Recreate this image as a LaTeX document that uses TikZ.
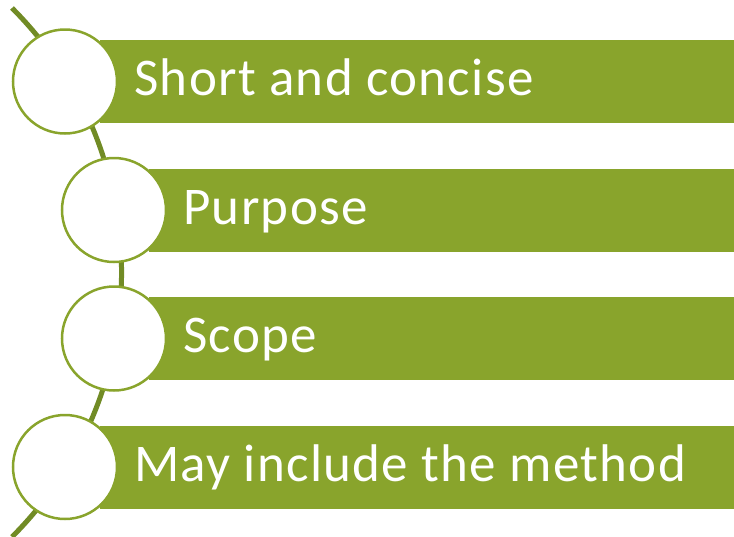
\documentclass[tikz,border=0pt]{standalone}
\usepackage{fontspec}
\setmainfont{Carlito}[LetterSpace=2.5]
\usepackage{xcolor}
\usepackage{tikz}
\definecolor{olivebar}{HTML}{89A42C}
\definecolor{oliveline}{HTML}{718B25}

\begin{document}
\begin{tikzpicture}[x=1pt, y=-1pt,
				bar/.style={fill=olivebar, draw=none, anchor=west, minimum height=83pt, inner sep=0pt},
				ring/.style={circle, fill=white, draw=olivebar, line width=2.5pt, minimum size=104pt, inner sep=0pt},
				label/.style={anchor=base west, text=white, inner sep=0pt, font=\fontsize{53}{62}\selectfont}]
				\useasboundingbox (0,0) rectangle (734,536);
				% arc behind everything
				\coordinate (arctop) at (12,8);
				\draw[oliveline, line width=5pt] (arctop) arc[start angle=-45, end angle=45, radius=374];
				% bars
				\node at (100,81.5) (bar1) [bar, minimum width=634pt] {};
				\node at (149,210) (bar2) [bar, minimum width=585pt] {};
				\node at (149,338.5) (bar3) [bar, minimum width=585pt] {};
				\node at (100,467) (bar4) [bar, minimum width=634pt] {};
				% circles
				\node at (65,81.5) (c1) [ring] {};
				\node at (114,210) (c2) [ring] {};
				\node at (114,338.5) (c3) [ring] {};
				\node at (65,467) (c4) [ring] {};
				% texts
				\node at (134,95.5) (t1) [label] {Short and concise};
				\node at (183,224) (t2) [label] {Purpose};
				\node at (183,352.5) (t3) [label] {Scope};
				\node at (134,481) (t4) [label] {May include the method};
			\end{tikzpicture}
\end{document}
